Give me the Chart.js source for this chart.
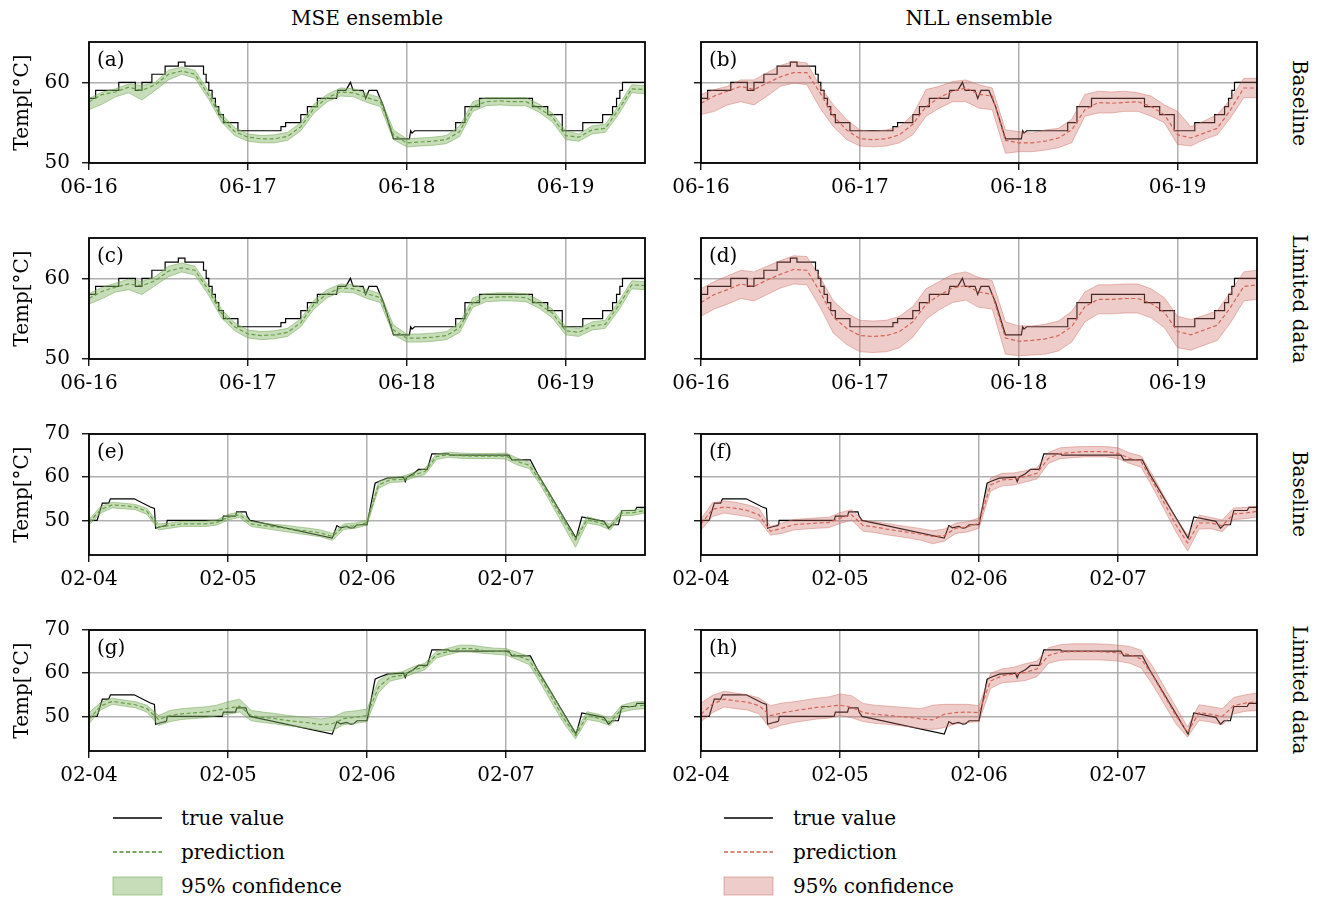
<!DOCTYPE html>
<html>
<head>
<meta charset="utf-8">
<script src="https://cdn.jsdelivr.net/npm/chart.js@4.4.1/dist/chart.umd.min.js"></script>
<style>
  body { margin: 0; background: #fff; }
  #fig { position: relative; width: 1326px; height: 899px; font-family: 'DejaVu Serif', serif; color: #000; }
  canvas { position: absolute; }
  .coltitle { position: absolute; top: 6px; font-size: 20px; transform: translateX(-50%); white-space: nowrap; }
  .rowlabel { position: absolute; left: 1300px; font-size: 20px; white-space: nowrap; transform: translate(-50%, -50%) rotate(90deg); }
  .legtext { position: absolute; font-size: 20px; white-space: nowrap; transform: translateY(-50%); }
  svg { position: absolute; }
</style>
</head>
<body>
<div id="fig">
  <div class="coltitle" style="left:367px">MSE ensemble</div>
  <div class="coltitle" style="left:979px">NLL ensemble</div>

  <div class="rowlabel" style="top:103px">Baseline</div>
  <div class="rowlabel" style="top:299px">Limited data</div>
  <div class="rowlabel" style="top:494px">Baseline</div>
  <div class="rowlabel" style="top:690px">Limited data</div>

  <canvas id="pa" width="660" height="173" style="left:0;top:30px"></canvas>
  <canvas id="pb" width="607" height="173" style="left:660px;top:30px"></canvas>
  <canvas id="pc" width="660" height="173" style="left:0;top:226px"></canvas>
  <canvas id="pd" width="607" height="173" style="left:660px;top:226px"></canvas>
  <canvas id="pe" width="660" height="173" style="left:0;top:422px"></canvas>
  <canvas id="pf" width="607" height="173" style="left:660px;top:422px"></canvas>
  <canvas id="pg" width="660" height="173" style="left:0;top:618px"></canvas>
  <canvas id="ph" width="607" height="173" style="left:660px;top:618px"></canvas>

  <!-- legend, MSE side -->
  <svg width="60" height="100" style="left:108px;top:800px">
    <line x1="5" y1="18" x2="54" y2="18" stroke="#000" stroke-width="1.3"/>
    <line x1="5" y1="52" x2="54" y2="52" stroke="#4f8f2f" stroke-width="1.3" stroke-dasharray="4,2.5"/>
    <rect x="5" y="77" width="49" height="18" fill="rgba(130,180,100,0.45)" stroke="rgba(120,170,90,0.6)" stroke-width="1"/>
  </svg>
  <div class="legtext" style="left:181px;top:818px">true value</div>
  <div class="legtext" style="left:181px;top:852px">prediction</div>
  <div class="legtext" style="left:181px;top:886px">95% confidence</div>

  <!-- legend, NLL side -->
  <svg width="60" height="100" style="left:719px;top:800px">
    <line x1="5" y1="18" x2="54" y2="18" stroke="#000" stroke-width="1.3"/>
    <line x1="5" y1="52" x2="54" y2="52" stroke="#d6604d" stroke-width="1.3" stroke-dasharray="4,2.5"/>
    <rect x="5" y="77" width="49" height="18" fill="rgba(205,110,100,0.35)" stroke="rgba(205,110,100,0.5)" stroke-width="1"/>
  </svg>
  <div class="legtext" style="left:793px;top:818px">true value</div>
  <div class="legtext" style="left:793px;top:852px">prediction</div>
  <div class="legtext" style="left:793px;top:886px">95% confidence</div>
</div>

<script>
// ---- June period (hours since 06-16 00:00) ----
const juneTickHours = [0, 24, 48, 72];
const juneTickLabels = ['06-16', '06-17', '06-18', '06-19'];
const juneYTicks = [50, 60];
const juneHours = [0, 2, 4, 6, 8, 10, 12, 14, 16, 18, 20, 22, 24, 26, 28, 30, 32, 34, 36, 38, 40, 42,
   44, 46, 48, 50, 52, 54, 56, 58, 60, 62, 64, 66, 68, 70, 72, 74, 76, 78, 80, 82, 84];

const juneTrueHours = [0, 1, 1, 4.5, 4.5, 7, 7, 8, 8, 9.5, 9.5, 11.5, 11.5, 13.5, 13.5, 14.5, 14.5, 17, 17.3, 17.3,
   17.7, 17.7, 18.1, 18.1, 18.6, 18.6, 19.1, 19.1, 19.6, 19.6, 20.3, 20.3, 22.5, 22.5, 29, 29, 29.7, 29.7, 32, 32,
   33, 33, 34.5, 34.5, 37.4, 37.6, 38.8, 39.5, 39.9, 41.4, 41.8, 42.3, 43.5, 44, 44.5, 46, 48.4, 48.6, 48.8, 49.2,
   55.4, 55.4, 56.8, 56.8, 59, 59, 67, 67, 69.3, 69.3, 71.5, 71.5, 74.6, 74.6, 77.6, 77.6, 79.1, 79.1, 79.7, 79.7,
   80.2, 80.2, 80.6, 80.6, 84];
const juneTrueValues = [58, 58, 59, 59, 60, 60, 59, 59, 60, 60, 61, 61, 62, 62, 62.5, 62.5, 62, 62, 62, 61,
   61, 60, 60, 59, 59, 58, 58, 57, 57, 56, 56, 55, 55, 54, 54, 54.5, 54.5, 55, 55, 56,
   56, 57, 57, 58, 58, 59, 59, 60, 59, 59, 58, 59, 59, 58, 57, 53, 53, 54, 53.7, 54,
   54, 55, 55, 57, 57, 58, 58, 57, 57, 56, 56, 54, 54, 55, 55, 56, 56, 57, 57, 58,
   58, 59, 59, 60, 60];

// (a) MSE ensemble, baseline
const mseBasePredJune = [57.6, 58.5, 58.8, 59.4, 59.0, 59.7, 61.0, 61.4, 61.0, 58.5, 55.6, 53.9, 53.2, 53.0, 53.0, 53.3, 54.5, 56.8,
   58.1, 58.8, 58.7, 58.1, 57.6, 53.5, 52.5, 52.6, 52.7, 52.9, 53.9, 57.0, 57.6, 57.7, 57.6, 57.6, 56.8, 55.7, 53.4, 53.2, 54.1, 54.3, 56.6, 59.2, 59.1];
const mseBaseLowJune = [56.6, 57.3, 58.2, 58.7, 57.8, 59.0, 60.3, 61.0, 60.5, 58.0, 55.1, 53.4, 52.7, 52.5, 52.5, 52.8, 54.0, 56.2,
   57.6, 58.3, 58.2, 57.5, 57.0, 52.9, 52.0, 52.1, 52.2, 52.4, 53.3, 56.4, 57.1, 57.2, 57.1, 57.1, 56.3, 55.1, 52.9, 52.7, 53.6, 53.8, 56.0, 58.7, 58.6];
const mseBaseHighJune = [58.0, 58.8, 59.2, 59.8, 59.6, 60.0, 61.5, 61.9, 61.5, 59.0, 56.1, 54.4, 53.6, 53.4, 53.5, 53.8, 55.0, 57.3,
   58.5, 59.3, 59.2, 58.6, 58.1, 54.1, 53.0, 53.1, 53.2, 53.4, 54.6, 57.6, 58.1, 58.1, 58.1, 58.1, 57.3, 56.2, 54.0, 53.6, 54.6, 54.8, 57.1, 59.7, 59.6];

// (b) NLL ensemble, baseline
const nllBasePredJune = [57.4, 58.3, 58.9, 59.5, 59.1, 59.9, 60.7, 61.2, 61.2, 58.7, 55.8, 54.1, 53.0, 52.9, 53.0, 53.5, 54.8, 57.0,
   58.1, 58.9, 59.3, 58.5, 58.3, 52.8, 52.5, 52.5, 52.7, 53.1, 54.1, 56.6, 57.5, 57.4, 57.5, 57.6, 57.0, 56.0, 53.5, 53.1, 53.7, 54.3, 56.6, 59.3, 59.3];
const nllBaseLowJune = [56.0, 56.4, 57.2, 57.6, 57.2, 58.3, 59.5, 59.9, 59.7, 56.8, 54.5, 52.9, 52.1, 52.0, 52.1, 52.5, 53.5, 55.8,
   56.8, 57.6, 57.6, 56.8, 56.6, 51.2, 51.4, 51.4, 51.6, 51.9, 52.5, 55.8, 56.2, 56.2, 56.4, 56.4, 55.8, 55.0, 52.3, 52.1, 52.9, 53.5, 55.6, 58.1, 58.1];
const nllBaseHighJune = [58.5, 59.1, 59.5, 60.3, 60.3, 61.2, 62.1, 62.6, 62.4, 59.5, 57.2, 55.4, 54.1, 53.9, 54.1, 54.5, 56.0, 59.1,
   59.5, 60.1, 60.3, 59.7, 59.3, 54.1, 53.9, 53.7, 54.1, 54.3, 55.4, 58.5, 58.9, 58.8, 58.9, 58.7, 58.3, 57.2, 56.4, 54.5, 55.2, 56.0, 57.9, 60.5, 60.5];

// (c) MSE ensemble, limited data
const mseLimPredJune = [57.5, 58.4, 58.9, 59.3, 59.1, 59.7, 60.9, 61.3, 61.0, 58.6, 55.7, 54.0, 53.1, 52.9, 53.0, 53.3, 54.5, 56.8,
   58.1, 58.8, 58.7, 58.1, 57.6, 53.6, 52.6, 52.6, 52.7, 52.9, 53.9, 57.0, 57.6, 57.7, 57.7, 57.6, 56.8, 55.7, 53.5, 53.3, 54.1, 54.3, 56.6, 59.2, 59.1];
const mseLimLowJune = [56.8, 57.5, 58.3, 58.6, 58.0, 59.1, 60.2, 60.8, 60.4, 58.0, 55.1, 53.5, 52.6, 52.4, 52.5, 52.8, 54.0, 56.2,
   57.6, 58.3, 58.2, 57.5, 57.0, 53.0, 52.1, 52.1, 52.2, 52.4, 53.3, 56.4, 57.1, 57.2, 57.2, 57.1, 56.3, 55.1, 53.0, 52.8, 53.6, 53.8, 56.0, 58.7, 58.6];
const mseLimHighJune = [58.1, 58.9, 59.4, 59.9, 59.6, 60.2, 61.5, 61.9, 61.5, 59.1, 56.2, 54.5, 53.6, 53.4, 53.5, 53.8, 55.0, 57.3,
   58.6, 59.3, 59.2, 58.6, 58.1, 54.2, 53.1, 53.1, 53.2, 53.4, 54.5, 57.6, 58.1, 58.2, 58.2, 58.1, 57.3, 56.2, 54.0, 53.8, 54.6, 54.8, 57.1, 59.7, 59.6];

// (d) NLL ensemble, limited data
const nllLimPredJune = [57.0, 58.0, 58.6, 59.3, 59.0, 59.8, 60.5, 61.1, 61.0, 58.3, 55.2, 53.8, 52.9, 52.8, 52.9, 53.4, 54.6, 56.8,
   57.9, 58.8, 59.1, 58.3, 58.0, 52.6, 52.2, 52.3, 52.5, 52.9, 54.0, 56.5, 57.4, 57.4, 57.5, 57.5, 56.9, 55.8, 53.4, 53.0, 53.6, 54.2, 56.4, 59.0, 59.2];
const nllLimLowJune = [55.3, 56.2, 56.8, 57.5, 57.2, 58.0, 58.8, 59.3, 59.2, 56.4, 53.2, 51.8, 50.9, 50.8, 50.9, 51.4, 52.7, 54.9,
   56.1, 57.0, 57.3, 56.4, 56.2, 50.6, 50.4, 50.5, 50.6, 51.0, 52.1, 54.6, 55.6, 55.6, 55.7, 55.7, 55.1, 53.9, 51.4, 51.1, 51.7, 52.3, 54.5, 57.2, 57.4];
const nllLimHighJune = [58.7, 59.6, 60.3, 61.0, 60.8, 61.5, 62.2, 62.8, 62.7, 60.1, 57.2, 55.7, 54.8, 54.7, 54.8, 55.3, 56.5, 58.7,
   59.6, 60.5, 60.8, 60.1, 59.7, 54.6, 54.1, 54.1, 54.3, 54.7, 55.9, 58.3, 59.2, 59.2, 59.3, 59.3, 58.7, 57.6, 55.3, 54.9, 55.4, 56.0, 58.3, 60.8, 61.0];

// ---- February period (hours since 02-04 00:00) ----
const febTickHours = [0, 24, 48, 72];
const febTickLabels = ['02-04', '02-05', '02-06', '02-07'];
const febYTicks = [50, 60, 70];
const febHours = [0, 2, 4, 6, 8, 10, 12, 14, 16, 18, 20, 22, 24, 26, 28, 30, 32, 34, 36, 38, 40, 42, 44, 46, 48,
   50, 52, 54, 56, 58, 60, 62, 64, 66, 68, 70, 72, 74, 76, 78, 80, 82, 84, 86, 88, 90, 92, 94, 96];

const febTrueHours = [0, 1.4, 2.3, 3.4, 3.7, 7.8, 10.6, 11.3, 11.5, 12.5, 13.2, 13.4, 13.5, 23, 23.2, 25.3, 25.5, 27.1, 27.3, 27.8,
   42, 42.8, 43.4, 44.5, 45.2, 45.7, 46.3, 48, 49.4, 50, 51.5, 54.3, 54.6, 54.9, 56, 56.9, 58.4, 59.2, 62.1, 62.3,
   72.5, 73, 76.2, 77.4, 84.1, 85.1, 88.9, 89.7, 90.3, 91.4, 92, 94.3, 94.6, 96];
const febTrueValues = [50, 50, 54, 54, 55, 55, 53.1, 52.8, 48.2, 48.6, 48.8, 49, 50, 50, 51, 51, 52, 52, 51, 50,
   45.9, 48.8, 48.3, 48.6, 48.2, 48.3, 49, 49, 58.6, 59, 59.8, 60, 59, 60, 60.8, 61.8, 61.8, 65.4, 65.4, 65.1,
   65.1, 64, 64, 60.9, 45.9, 50.8, 49.8, 48.2, 49, 49, 52.3, 52.3, 53, 53];

// (e) MSE ensemble, baseline
const mseBasePredFeb = [49.5, 52.5, 53.6, 53.4, 53.1, 52.1, 48.5, 48.8, 49.2, 49.2, 49.2, 49.5, 50.7, 51.3, 49.2, 48.8, 48.5, 48.2, 47.8, 47.5,
   47.1, 46.3, 48.6, 48.8, 49.5, 58.2, 59.4, 59.5, 60.5, 61.3, 64.8, 65.2, 65.0, 64.9, 64.9, 64.9, 64.9, 63.6, 62.8, 59.0,
   54.4, 49.8, 45.5, 50.2, 49.5, 48.5, 51.7, 51.8, 52.3];
const mseBaseLowFeb = [48.9, 51.7, 52.9, 52.7, 52.5, 51.4, 47.8, 48.2, 48.6, 48.6, 48.6, 48.9, 50.1, 50.7, 48.6, 48.2, 47.8, 47.4, 47.0, 46.6,
   46.2, 45.4, 47.9, 48.2, 48.9, 57.4, 58.8, 58.9, 59.9, 60.6, 64.1, 64.6, 64.4, 64.3, 64.3, 64.3, 64.2, 62.8, 62.0, 58.1,
   53.4, 48.6, 43.8, 49.4, 48.9, 47.8, 51.1, 51.2, 51.7];
const mseBaseHighFeb = [50.2, 53.2, 54.2, 54.0, 53.7, 52.8, 49.2, 49.4, 49.8, 49.8, 49.8, 50.1, 51.4, 52.0, 49.8, 49.4, 49.1, 48.9, 48.5, 48.2,
   47.8, 47.0, 49.2, 49.4, 50.1, 59.0, 60.0, 60.1, 61.1, 62.0, 65.4, 65.8, 65.6, 65.5, 65.5, 65.5, 65.6, 64.4, 63.5, 59.8,
   55.2, 50.6, 46.0, 50.9, 50.1, 49.2, 52.3, 52.4, 52.9];

// (f) NLL ensemble, baseline
const nllBasePredFeb = [49.2, 52.6, 53.1, 52.8, 52.3, 51.3, 47.5, 48.2, 49.0, 49.2, 49.4, 49.5, 50.5, 51.3, 48.8, 48.5, 48.0, 47.6, 47.2, 46.8,
   46.3, 46.5, 48.2, 48.5, 49.4, 58.2, 59.4, 59.5, 60.2, 60.9, 64.4, 65.5, 65.7, 65.9, 65.9, 65.9, 65.5, 64.4, 63.6, 59.0,
   54.0, 49.0, 44.8, 49.4, 49.4, 48.8, 51.5, 51.7, 52.1];
const nllBaseLowFeb = [47.8, 50.9, 51.7, 51.3, 50.9, 50.1, 46.6, 47.0, 47.8, 48.0, 48.2, 48.3, 49.3, 50.1, 47.5, 47.2, 46.7, 46.3, 45.9, 45.4,
   44.6, 45.2, 47.0, 47.3, 48.2, 56.8, 58.0, 58.2, 58.9, 59.6, 63.2, 64.3, 64.5, 64.7, 64.7, 64.7, 64.3, 63.2, 62.3, 57.6,
   52.5, 47.4, 42.9, 48.0, 48.1, 47.4, 50.2, 50.4, 50.8];
const nllBaseHighFeb = [50.4, 54.1, 54.5, 54.2, 53.6, 52.8, 48.6, 49.4, 50.2, 50.4, 50.6, 50.7, 51.8, 52.5, 50.0, 49.7, 49.3, 48.9, 48.5, 48.1,
   47.6, 48.0, 49.4, 49.7, 50.6, 59.8, 60.9, 61.0, 61.5, 62.2, 65.7, 66.8, 67.0, 67.1, 67.1, 67.1, 66.8, 65.6, 64.9, 60.4,
   55.5, 50.6, 46.7, 51.2, 50.7, 50.1, 52.9, 53.0, 53.3];

// (g) MSE ensemble, limited data
const mseLimPredFeb = [49.3, 52.4, 53.5, 53.1, 52.7, 51.8, 49.3, 50.2, 50.6, 50.8, 51.0, 51.4, 51.9, 52.4, 50.2, 49.8, 49.5, 49.1, 48.8, 48.5,
   48.1, 48.3, 49.5, 49.8, 50.2, 56.8, 59.1, 59.5, 60.7, 61.5, 64.3, 65.0, 65.7, 65.7, 65.3, 65.1, 65.0, 64.0, 63.0, 58.8,
   54.1, 49.5, 45.6, 50.2, 49.6, 48.7, 51.8, 52.4, 52.6];
const mseLimLowFeb = [48.3, 51.5, 52.8, 52.4, 52.0, 51.0, 47.9, 48.8, 49.3, 49.5, 49.7, 50.1, 50.5, 51.0, 49.0, 48.6, 48.3, 47.9, 47.6, 47.2,
   46.7, 46.7, 48.1, 48.4, 48.8, 55.5, 58.2, 58.8, 59.9, 60.8, 63.5, 64.3, 64.9, 64.9, 64.6, 64.4, 64.2, 63.1, 62.0, 57.6,
   52.9, 48.4, 44.8, 49.3, 48.8, 47.9, 51.0, 51.6, 51.8];
const mseLimHighFeb = [50.9, 53.2, 54.2, 53.8, 53.4, 52.6, 50.2, 51.4, 51.8, 52.0, 52.2, 52.6, 53.4, 54.0, 51.4, 51.0, 50.7, 50.3, 50.0, 49.7,
   49.4, 49.8, 51.0, 51.3, 51.7, 58.3, 60.0, 60.3, 61.5, 62.3, 65.1, 65.8, 66.5, 66.5, 66.1, 65.8, 65.7, 64.8, 63.9, 59.9,
   55.3, 50.6, 46.4, 51.1, 50.5, 49.5, 52.6, 53.3, 53.5];

// (h) NLL ensemble, limited data
const nllLimPredFeb = [50.5, 52.9, 54.0, 53.6, 53.3, 52.5, 50.2, 50.8, 51.3, 51.7, 52.1, 52.3, 52.6, 52.1, 50.9, 50.5, 50.3, 50.0, 49.8, 49.4,
   49.2, 50.5, 50.9, 51.0, 50.9, 58.2, 59.4, 59.8, 60.2, 61.0, 64.1, 64.9, 65.0, 65.0, 65.0, 64.9, 64.7, 64.3, 63.3, 59.4,
   54.8, 50.2, 46.3, 50.9, 50.5, 50.0, 52.5, 53.1, 53.4];
const nllLimLowFeb = [48.8, 50.9, 52.2, 51.8, 51.5, 50.6, 47.1, 48.0, 48.6, 49.0, 49.4, 49.6, 50.2, 49.7, 48.8, 48.4, 48.2, 47.9, 47.6, 47.2,
   47.0, 47.4, 48.3, 48.6, 48.8, 56.5, 57.8, 58.0, 58.3, 59.2, 62.3, 63.0, 63.1, 63.1, 63.1, 63.0, 62.8, 62.3, 61.2, 57.3,
   52.8, 48.3, 45.2, 49.1, 48.7, 48.1, 50.6, 51.2, 51.4];
const nllLimHighFeb = [53.1, 54.9, 55.8, 55.4, 55.0, 54.3, 52.5, 53.1, 53.4, 53.8, 54.2, 54.5, 55.2, 54.8, 53.0, 52.6, 52.4, 52.2, 52.0, 51.8,
   52.6, 52.8, 52.8, 52.8, 52.5, 60.0, 61.0, 61.4, 62.2, 62.8, 65.9, 66.6, 66.8, 66.8, 66.8, 66.7, 66.5, 66.2, 65.3, 61.5,
   56.8, 52.2, 47.6, 52.7, 52.3, 51.8, 54.4, 55.0, 55.4];

const FONT = "'DejaVu Serif', serif";
const MSE_STYLE = { pred: '#4f8f2f', band: 'rgba(130,180,100,0.45)', edge: 'rgba(120,170,90,0.55)' };
const NLL_STYLE = { pred: '#d6604d', band: 'rgba(205,110,100,0.35)', edge: 'rgba(205,110,100,0.45)' };

const JUNE = { hours: juneHours, trueH: juneTrueHours, trueV: juneTrueValues, xMax: 84,
   tickHours: juneTickHours, tickLabels: juneTickLabels, yMin: 50, yMax: 65, yTicks: juneYTicks };
const FEB = { hours: febHours, trueH: febTrueHours, trueV: febTrueValues, xMax: 96,
   tickHours: febTickHours, tickLabels: febTickLabels, yMin: 42, yMax: 70, yTicks: febYTicks };

// frame around the plot area + panel letter
const framePlugin = {
   id: 'frame',
   afterDatasetsDraw(chart, args, opts) {
      const { ctx, chartArea: a } = chart;
      ctx.save();
      ctx.strokeStyle = '#000';
      ctx.lineWidth = 1.8;
      ctx.strokeRect(a.left, a.top, a.right - a.left, a.bottom - a.top);
      ctx.fillStyle = '#000';
      ctx.font = '20px ' + FONT;
      ctx.textBaseline = 'alphabetic';
      ctx.fillText(opts.letter, a.left + 8, a.top + 24);
      ctx.restore();
   }
};

function toPoints(xs, ys) {
   return ys.map((v, i) => ({ x: xs[i], y: v }));
}

function noPad(s) {
   s.paddingTop = 0;
   s.paddingBottom = 0;
   s.paddingLeft = 0;
   s.paddingRight = 0;
}

function buildPanel(id, letter, period, pred, low, high, style, leftCol) {
   new Chart(document.getElementById(id), {
      type: 'line',
      data: {
         datasets: [
            { data: toPoints(period.hours, low), borderColor: style.edge, borderWidth: 1,
              backgroundColor: style.band, fill: false, pointRadius: 0 },
            { data: toPoints(period.hours, high), borderColor: style.edge, borderWidth: 1,
              backgroundColor: style.band, fill: '-1', pointRadius: 0 },
            { data: toPoints(period.hours, pred), borderColor: style.pred, borderWidth: 1.2,
              borderDash: [4, 2.5], fill: false, pointRadius: 0 },
            { data: toPoints(period.trueH, period.trueV), borderColor: '#000', borderWidth: 1.2,
              fill: false, pointRadius: 0 }
         ]
      },
      plugins: [framePlugin],
      options: {
         responsive: false,
         animation: false,
         events: [],
         layout: { padding: { left: leftCol ? 7 : 0, right: leftCol ? 15 : 10, top: 12, bottom: 0 } },
         plugins: {
            legend: { display: false },
            tooltip: { enabled: false },
            frame: { letter: letter }
         },
         scales: {
            x: {
               type: 'linear',
               min: 0,
               max: period.xMax,
               afterBuildTicks: s => { s.ticks = period.tickHours.map(v => ({ value: v })); },
               afterFit: s => { s.height = 40; noPad(s); },
               ticks: {
                  callback: v => period.tickLabels[period.tickHours.indexOf(v)],
                  color: '#000',
                  font: { family: FONT, size: 20 },
                  padding: 6,
                  maxRotation: 0,
                  autoSkip: false
               },
               grid: { color: '#b0b0b0', lineWidth: 1.5, tickColor: '#000', tickLength: 7, tickWidth: 1.3 },
               border: { display: false }
            },
            y: {
               min: period.yMin,
               max: period.yMax,
               afterBuildTicks: s => { s.ticks = period.yTicks.map(v => ({ value: v })); },
               afterFit: s => { s.width = leftCol ? 82 : 41; noPad(s); },
               ticks: {
                  callback: v => leftCol ? String(v) : '',
                  color: '#000',
                  font: { family: FONT, size: 20 },
                  padding: 12
               },
               title: {
                  display: leftCol,
                  text: 'Temp[°C]',
                  color: '#000',
                  font: { family: FONT, size: 20 },
                  padding: { top: 4, bottom: 0 }
               },
               grid: { color: '#b0b0b0', lineWidth: 1.5, tickColor: '#000', tickLength: 7, tickWidth: 1.3 },
               border: { display: false }
            }
         }
      }
   });
}

buildPanel('pa', '(a)', JUNE, mseBasePredJune, mseBaseLowJune, mseBaseHighJune, MSE_STYLE, true);
buildPanel('pb', '(b)', JUNE, nllBasePredJune, nllBaseLowJune, nllBaseHighJune, NLL_STYLE, false);
buildPanel('pc', '(c)', JUNE, mseLimPredJune, mseLimLowJune, mseLimHighJune, MSE_STYLE, true);
buildPanel('pd', '(d)', JUNE, nllLimPredJune, nllLimLowJune, nllLimHighJune, NLL_STYLE, false);
buildPanel('pe', '(e)', FEB, mseBasePredFeb, mseBaseLowFeb, mseBaseHighFeb, MSE_STYLE, true);
buildPanel('pf', '(f)', FEB, nllBasePredFeb, nllBaseLowFeb, nllBaseHighFeb, NLL_STYLE, false);
buildPanel('pg', '(g)', FEB, mseLimPredFeb, mseLimLowFeb, mseLimHighFeb, MSE_STYLE, true);
buildPanel('ph', '(h)', FEB, nllLimPredFeb, nllLimLowFeb, nllLimHighFeb, NLL_STYLE, false);
</script>
</body>
</html>
